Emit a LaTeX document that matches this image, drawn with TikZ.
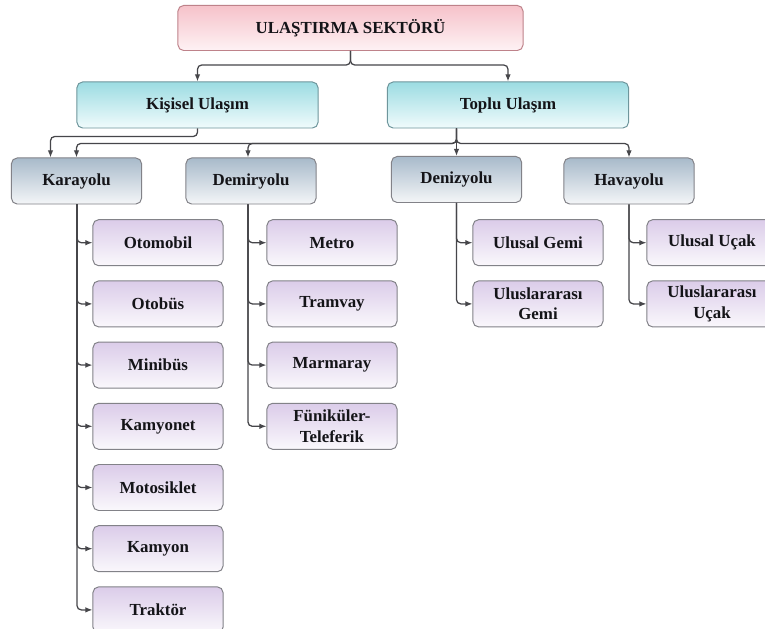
\documentclass[tikz,border=0pt]{standalone}
\usepackage{fontspec}
\setmainfont{Liberation Serif}
\usetikzlibrary{arrows.meta,positioning,calc}
\definecolor{rosetop}{RGB}{246,194,202}
\definecolor{rosebot}{RGB}{254,242,244}
\definecolor{roseline}{RGB}{190,130,138}
\definecolor{aquatop}{RGB}{156,220,226}
\definecolor{aquabot}{RGB}{240,251,252}
\definecolor{aqualine}{RGB}{110,150,156}
\definecolor{slatetop}{RGB}{168,186,202}
\definecolor{slatebot}{RGB}{244,246,248}
\definecolor{lilactop}{RGB}{219,204,233}
\definecolor{lilacbot}{RGB}{250,248,252}
\definecolor{frame}{RGB}{130,130,136}
\definecolor{wire}{RGB}{70,70,74}
\definecolor{ink}{RGB}{20,20,24}

\begin{document}
\begin{tikzpicture}[
  x=0.025cm,y=-0.025cm,
  font=\fontsize{12}{14.5}\selectfont\bfseries,
  box/.style={rectangle,rounded corners=4pt,inner sep=0pt,align=center,text=ink,line width=0.7pt},
  head/.style={box,draw=roseline,top color=rosetop,bottom color=rosebot,minimum width=8.625cm,minimum height=1.125cm},
  mode/.style={box,draw=aqualine,top color=aquatop,bottom color=aquabot,minimum width=6.025cm,minimum height=1.15cm},
  branch/.style={box,draw=frame,top color=slatetop,bottom color=slatebot,minimum width=3.25cm,minimum height=1.15cm},
  leaf/.style={box,draw=frame,top color=lilactop,bottom color=lilacbot,minimum width=3.25cm,minimum height=1.15cm},
  arr/.style={-{Latex[length=1.8mm,width=1.4mm]},line width=0.9pt,wire,rounded corners=3pt}
]
\useasboundingbox[fill=white] (0,0) rectangle (765,629);
% levels
\node[head] (sector) at (350.5,28) {ULAŞTIRMA SEKTÖRÜ};
\node[mode] (kisisel) at (197.5,105) {Kişisel Ulaşım};
\node[mode] (toplu) at (508,105) {Toplu Ulaşım};
\node[branch] (kara) at (76.5,181) {Karayolu};
\node[branch] (demir) at (251,181) {Demiryolu};
\node[branch] (deniz) at (456.5,179.5) {Denizyolu};
\node[branch] (hava) at (629,181) {Havayolu};
% leaves
\foreach \txt [count=\i] in {Otomobil,Otobüs,Minibüs,Kamyonet,Motosiklet,Kamyon,Traktör}
  \node[leaf] (k\i) at (158,{181.5+61.2*\i}) {\txt};
\foreach \txt [count=\i] in {Metro,Tramvay,Marmaray,{Füniküler-\\Teleferik}}
  \node[leaf] (d\i) at (332,{181.5+61.2*\i}) {\txt};
\foreach \txt [count=\i] in {Ulusal Gemi,{Uluslararası\\Gemi}}
  \node[leaf] (g\i) at (538,{181.5+61.2*\i}) {\txt};
\foreach \txt [count=\i] in {Ulusal Uçak,{Uluslararası\\Uçak}}
  \node[leaf] (u\i) at (712,{181.5+61.2*\i}) {\txt};
% connectors
\draw[arr] (sector.south) -- ++(0,14) -| (kisisel.north);
\draw[arr] (sector.south) -- ++(0,14) -| (toplu.north);
\draw[arr] (kisisel.south) -- ++(0,8) -| ($(kara.north)+(-26,0)$);
\coordinate (tj) at (deniz.north |- toplu.south);
\draw[arr] (tj) -- ++(0,15) -| (kara.north);
\draw[arr] (tj) -- ++(0,15) -| ($(demir.north)+(-3,0)$);
\draw[arr] (tj) -- (deniz.north);
\draw[arr] (tj) -- ++(0,15) -| (hava.north);
\foreach \i in {1,...,7} \draw[arr] ($(kara.south)+(0.5,0)$) |- (k\i.west);
\foreach \i in {1,...,4} \draw[arr] ($(demir.south)+(-3,0)$) |- (d\i.west);
\foreach \i in {1,2} \draw[arr] (deniz.south) |- (g\i.west);
\foreach \i in {1,2} \draw[arr] (hava.south) |- (u\i.west);
\end{tikzpicture}
\end{document}
